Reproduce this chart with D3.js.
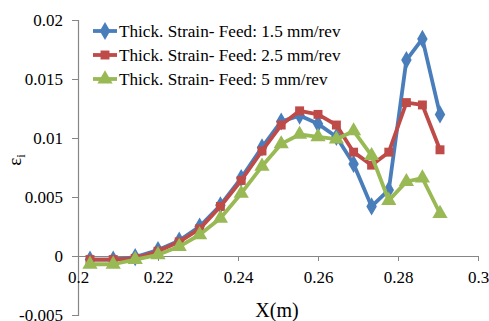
<!DOCTYPE html>
<html>
<head>
<meta charset="utf-8">
<script src="https://cdn.jsdelivr.net/npm/d3@7"></script>
<style>
  body { margin: 0; background: #fff; }
  svg text { font-family: 'Liberation Serif', 'Times New Roman', serif; fill: #000; }
</style>
</head>
<body>
<svg id="chart" width="489" height="321"></svg>
<script>
const svg = d3.select('#chart')

// x positions (m) shared by all three series
const xs = [0.2030, 0.2088, 0.2143, 0.2200, 0.2253, 0.2304, 0.2356, 0.2408, 0.2460, 0.2508,
            0.2554, 0.2600, 0.2646, 0.2689, 0.2734, 0.2777, 0.2821, 0.2861, 0.2905]

const feed15 = [-0.0003, -0.0003, -0.0001, 0.0005, 0.0013, 0.0025, 0.0043, 0.0066, 0.0092, 0.0114,
                0.0119, 0.0112, 0.0101, 0.0078, 0.0042, 0.0056, 0.0166, 0.0184, 0.0120]
const feed25 = [-0.0003, -0.0003, -0.0002, 0.0004, 0.0012, 0.0023, 0.0042, 0.0064, 0.0089, 0.0111,
                0.0123, 0.0120, 0.0111, 0.0088, 0.0077, 0.0088, 0.0130, 0.0128, 0.0090]
const feed5  = [-0.0007, -0.0007, -0.0003, 0.0001, 0.0008, 0.0018, 0.0032, 0.0053, 0.0076, 0.0095,
                0.0103, 0.0101, 0.0099, 0.0106, 0.0085, 0.0047, 0.0063, 0.0066, 0.0036]

const seriesNames = ['Thick. Strain- Feed: 1.5 mm/rev', 'Thick. Strain- Feed: 2.5 mm/rev', 'Thick. Strain- Feed: 5 mm/rev']
const xTicks = [0.2, 0.22, 0.24, 0.26, 0.28, 0.3]
const yTicks = [-0.005, 0, 0.005, 0.01, 0.015, 0.02]

const colors = ['#4A7EBB', '#BE4B48', '#98B954']
const symbols = [d3.symbolDiamond, d3.symbolSquare, d3.symbolTriangle]
const symSizes = [95, 80, 100]
const serif = "'Liberation Serif', 'Times New Roman', serif"

const x = d3.scaleLinear().domain([0.2, 0.3]).range([78, 478])
const y = d3.scaleLinear().domain([-0.005, 0.02]).range([315, 20])

// y axis
const yAxis = svg.append('g')
  .attr('transform', 'translate(78,0)')
  .call(d3.axisLeft(y).tickValues(yTicks).tickSize(6).tickPadding(9)
    .tickFormat(d => d === 0 ? '0' : String(+d.toFixed(3))))
yAxis.attr('font-family', serif)
yAxis.select('.domain').attr('stroke', '#868686').attr('stroke-width', 1.2)
yAxis.selectAll('.tick line').attr('stroke', '#868686')
yAxis.selectAll('.tick text').attr('font-size', 17)

// x axis on y = 0
const xAxis = svg.append('g')
  .attr('transform', `translate(0,${y(0)})`)
  .call(d3.axisBottom(x).tickValues(xTicks).tickSize(5).tickSizeOuter(0).tickPadding(10)
    .tickFormat(d => String(+d.toFixed(2))))
xAxis.attr('font-family', serif)
xAxis.select('.domain').attr('stroke', '#868686').attr('stroke-width', 1.2)
xAxis.selectAll('.tick line').attr('stroke', '#868686')
xAxis.selectAll('.tick text').attr('font-size', 17)

const data = [feed15, feed25, feed5]
const line = d3.line().x((d, i) => x(xs[i])).y(d => y(d))

data.forEach((vals, k) => {
  svg.append('path')
    .datum(vals)
    .attr('d', line)
    .attr('fill', 'none')
    .attr('stroke', colors[k])
    .attr('stroke-width', 3.8)
    .attr('stroke-linejoin', 'round')
  svg.selectAll(null)
    .data(vals)
    .enter()
    .append('path')
    .attr('d', d3.symbol().type(symbols[k]).size(symSizes[k]))
    .attr('transform', (d, i) => `translate(${x(xs[i])},${y(d)})`)
    .attr('fill', colors[k])
})

// legend
seriesNames.forEach((name, k) => {
  const ly = 31 + k * 24
  svg.append('line')
    .attr('x1', 93).attr('x2', 117).attr('y1', ly).attr('y2', ly)
    .attr('stroke', colors[k]).attr('stroke-width', 3.8)
  svg.append('path')
    .attr('d', d3.symbol().type(symbols[k]).size(symSizes[k]))
    .attr('transform', `translate(105,${ly})`)
    .attr('fill', colors[k])
  svg.append('text')
    .attr('x', 119).attr('y', ly + 6)
    .attr('font-size', 17.2)
    .text(name)
})

// axis titles
svg.append('text')
  .attr('x', 277).attr('y', 317)
  .attr('text-anchor', 'middle')
  .attr('font-size', 20)
  .text('X(m)')

const yl = svg.append('text')
  .attr('transform', 'translate(21,160) rotate(-90)')
  .attr('text-anchor', 'middle')
  .attr('font-size', 19)
yl.append('tspan').text('ε')
yl.append('tspan').attr('font-size', 13).attr('dy', 4).text('i')
</script>
</body>
</html>
